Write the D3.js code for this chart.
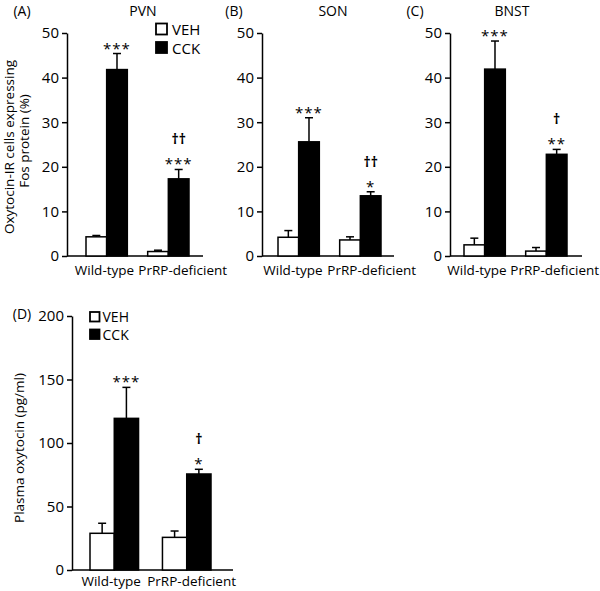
<!DOCTYPE html>
<html><head><meta charset="utf-8">
<script src="https://cdn.jsdelivr.net/npm/d3@7"></script>
<style>
body{margin:0;background:#fff}
text{font-family:"Open Sans","Noto Sans",sans-serif;fill:#000}
</style>
</head><body>
<svg id="c" width="600" height="591"></svg>
<script>
// ---- data ----
const categories = ["Wild-type", "PrRP-deficient"];
const series = ["VEH", "CCK"];
const panelLetters = ["(A)", "(B)", "(C)", "(D)"];
const panelTitles = ["PVN", "SON", "BNST", ""];
const fosTicks = [0, 10, 20, 30, 40, 50];
const plasmaTicks = [0, 50, 100, 150, 200];

// [category][series]
const pvnMean = [[4.3, 41.8], [1.0, 17.3]];
const pvnSem  = [[0.3, 3.6], [0.3, 2.1]];
const sonMean = [[4.2, 25.6], [3.6, 13.5]];
const sonSem  = [[1.5, 5.4], [0.7, 0.9]];
const bnstMean = [[2.5, 41.9], [1.1, 22.8]];
const bnstSem  = [[1.5, 6.3], [0.8, 1.1]];
const plasmaMean = [[28.9, 119.4], [25.7, 75.6]];
const plasmaSem  = [[7.9, 24.4], [5.0, 3.7]];

const pvnStars = [["", "***"], ["", "***"]];
const pvnDaggers = [["", ""], ["", "††"]];
const sonStars = [["", "***"], ["", "*"]];
const sonDaggers = [["", ""], ["", "††"]];
const bnstStars = [["", "***"], ["", "**"]];
const bnstDaggers = [["", ""], ["", "†"]];
const plasmaStars = [["", "***"], ["", "*"]];
const plasmaDaggers = [["", ""], ["", "†"]];

// ---- layout ----
const svg = d3.select("#c");
const panels = [
  {mean: pvnMean, sem: pvnSem, stars: pvnStars, daggers: pvnDaggers, ticks: fosTicks, max: 50,
   ax: 67, axEnd: 203, b0: 86, b1: 189, yTop: 33, yBot: 256, lab: [27.5, -30], labDy: 19,
   letter: panelLetters[0], letterX: 22, title: panelTitles[0], titleX: 143, titleY: 16},
  {mean: sonMean, sem: sonSem, stars: sonStars, daggers: sonDaggers, ticks: fosTicks, max: 50,
   ax: 262, axEnd: 394, b0: 278, b1: 381, yTop: 33, yBot: 256, lab: [24, -33], labDy: 19,
   letter: panelLetters[1], letterX: 234, title: panelTitles[1], titleX: 333, titleY: 16},
  {mean: bnstMean, sem: bnstSem, stars: bnstStars, daggers: bnstDaggers, ticks: fosTicks, max: 50,
   ax: 450, axEnd: 582, b0: 464, b1: 567, yTop: 33, yBot: 256, lab: [22, -36], labDy: 19,
   letter: panelLetters[2], letterX: 415, title: panelTitles[2], titleX: 512, titleY: 16},
  {mean: plasmaMean, sem: plasmaSem, stars: plasmaStars, daggers: plasmaDaggers, ticks: plasmaTicks, max: 200,
   ax: 72, axEnd: 233, b0: 90, b1: 211, yTop: 316, yBot: 570, lab: [26.5, -39.5], labDy: 16,
   letter: panelLetters[3], letterX: 22, title: panelTitles[3], titleX: 150, titleY: 319}
];

function drawPanel(p) {
  const g = svg.append("g");
  const y = d3.scaleLinear().domain([0, p.max]).range([p.yBot, p.yTop]);
  const x0 = d3.scaleBand().domain(categories).range([p.b0, p.b1]).paddingInner(0.33).paddingOuter(0);
  const x1 = d3.scaleBand().domain(series).range([0, x0.bandwidth()]).padding(0);

  // y axis
  const yAxis = d3.axisLeft(y).tickValues(p.ticks).tickSize(5).tickSizeOuter(0).tickPadding(3);
  const ga = g.append("g").attr("transform", `translate(${p.ax},0)`).call(yAxis);
  ga.select(".domain").attr("stroke", "#000").attr("stroke-width", 1.5);
  ga.selectAll(".tick line").attr("stroke", "#000").attr("stroke-width", 1.5);
  ga.selectAll(".tick text").style("font-size", "15px").style("font-family", '"Open Sans","Noto Sans",sans-serif').attr("fill", "#000");

  // x axis baseline
  g.append("line").attr("x1", p.ax).attr("x2", p.axEnd).attr("y1", p.yBot).attr("y2", p.yBot)
    .attr("stroke", "#000").attr("stroke-width", 1.5);

  categories.forEach((cat, ci) => {
    series.forEach((s, si) => {
      const m = p.mean[ci][si], e = p.sem[ci][si];
      const bx = x0(cat) + x1(s), bw = x1.bandwidth(), cx = bx + bw / 2;
      // error bar (upper only)
      g.append("line").attr("x1", cx).attr("x2", cx).attr("y1", y(m)).attr("y2", y(m + e))
        .attr("stroke", "#000").attr("stroke-width", 1.5);
      g.append("line").attr("x1", cx - 4).attr("x2", cx + 4).attr("y1", y(m + e)).attr("y2", y(m + e))
        .attr("stroke", "#000").attr("stroke-width", 1.5);
      g.append("rect").attr("x", bx).attr("y", y(m)).attr("width", bw).attr("height", p.yBot - y(m))
        .attr("fill", si === 0 ? "#fff" : "#000").attr("stroke", "#000").attr("stroke-width", 1.5);
      const starY = y(m + e) - 3;
      if (p.stars[ci][si]) {
        g.append("text").attr("x", cx).attr("y", starY + 3).attr("text-anchor", "middle")
          .style("font-size", "15px").style("letter-spacing", "1px").text(p.stars[ci][si]);
      }
      if (p.daggers[ci][si]) {
        g.append("text").attr("x", cx).attr("y", starY - 22).attr("text-anchor", "middle")
          .style("font-size", "14px").style("font-weight", "bold").style("fill", "#000").text(p.daggers[ci][si]);
      }
    });
    const gc = x0(cat) + x0.bandwidth() / 2;
    g.append("text").attr("x", gc + p.lab[ci]).attr("y", p.yBot + p.labDy)
      .attr("text-anchor", ci === 0 ? "end" : "start").style("font-size", "13.5px").text(cat);
  });

  g.append("text").attr("x", p.letterX).attr("y", p.titleY).attr("text-anchor", "middle")
    .style("font-size", "14px").text(p.letter);
  if (p.title) {
    g.append("text").attr("x", p.titleX).attr("y", p.titleY).attr("text-anchor", "middle")
      .style("font-size", "14px").text(p.title);
  }
}
panels.forEach(drawPanel);

// y axis titles
svg.append("text").attr("transform", "translate(14,147) rotate(-90)").attr("text-anchor", "middle")
  .style("font-size", "13.5px").text("Oxytocin-IR cells expressing");
svg.append("text").attr("transform", "translate(29,141) rotate(-90)").attr("text-anchor", "middle")
  .style("font-size", "13.5px").text("Fos protein (%)");
svg.append("text").attr("transform", "translate(24,448) rotate(-90)").attr("text-anchor", "middle")
  .style("font-size", "13.5px").text("Plasma oxytocin (pg/ml)");

// legends
function legend(x, y0, size, gap, tx, fs) {
  series.forEach((s, i) => {
    svg.append("rect").attr("x", x).attr("y", y0 + i * gap).attr("width", size).attr("height", size)
      .attr("fill", i === 0 ? "#fff" : "#000").attr("stroke", "#000").attr("stroke-width", 1.8);
    svg.append("text").attr("x", tx).attr("y", y0 + i * gap + size + 0.5).style("font-size", fs + "px").text(s);
  });
}
legend(156, 23.5, 11, 18.5, 172, 15);
legend(90, 312, 9.5, 17.5, 102.5, 14);
</script>
</body></html>
